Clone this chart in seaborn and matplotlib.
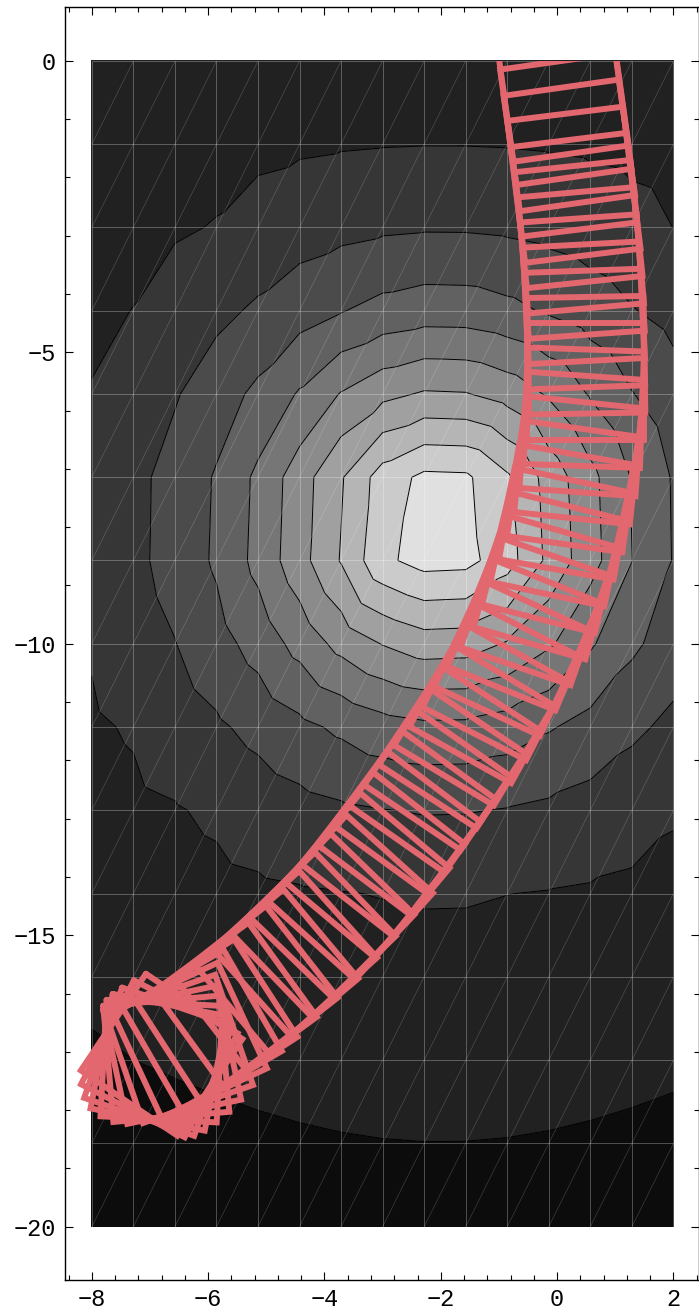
import numpy as np
import pandas as pd
import matplotlib
matplotlib.use("Agg")
import matplotlib.pyplot as plt
import matplotlib.tri as mtri
from matplotlib.ticker import MultipleLocator
from matplotlib.patches import Rectangle
from matplotlib.collections import LineCollection
import seaborn as sns

# -------------------------------------
# Data
# -------------------------------------

# 15 x 15 sampling mesh of the contour plot
mesh_x = [-8.0, -7.286, -6.571, -5.857, -5.143, -4.429, -3.714, -3.0,
          -2.286, -1.571, -0.857, -0.143, 0.571, 1.286, 2.0]
mesh_y = [-20.0, -18.571, -17.143, -15.714, -14.286, -12.857, -11.429, -10.0,
          -8.571, -7.143, -5.714, -4.286, -2.857, -1.429, 0.0]

# contour rings: distance from the peak at which each level is crossed
peak_x, peak_y = -2.0, -7.95
ring_radius = [0.0, 1.1, 1.45, 1.85, 2.3, 2.85, 3.35, 4.0, 4.97, 6.45, 10.6, 14.0]
ring_level = [11, 10, 9, 8, 7, 6, 5, 4, 3, 2, 1, 0]
band_gray = ['#0c0c0c', '#212121', '#363636', '#4b4b4b', '#616161', '#767676',
             '#8b8b8b', '#a0a0a0', '#b5b5b5', '#cbcbcb', '#e0e0e0']

# moving square: centre and rotation (degrees) of every drawn copy
sq_x = [0.10, 0.15, 0.21, 0.26, 0.32, 0.37, 0.41, 0.44, 0.46, 0.48, 0.50,
        0.49, 0.46, 0.42, 0.36, 0.27, 0.16, 0.04, -0.08, -0.20,
        -0.39, -0.58, -0.78, -0.97, -1.18, -1.43, -1.68, -1.93, -2.18,
        -2.45, -2.72, -2.99, -3.26, -3.55, -3.87, -4.19, -4.51,
        -4.83, -5.18, -5.53, -5.85, -6.10, -6.32, -6.50, -6.62, -6.72,
        -6.80, -6.85, -6.86, -6.84, -6.80]
sq_y = [-0.60, -1.00, -1.45, -1.90, -2.35, -2.80, -3.25, -3.70, -4.15, -4.60, -5.05,
        -5.50, -5.95, -6.40, -6.85, -7.30, -7.74, -8.17, -8.60, -9.03,
        -9.44, -9.84, -10.25, -10.65, -11.03, -11.40, -11.78, -12.15, -12.53,
        -12.89, -13.25, -13.61, -13.97, -14.35, -14.67, -14.99, -15.31,
        -15.62, -15.90, -16.18, -16.45, -16.62, -16.80, -16.95, -17.05, -17.12,
        -17.16, -17.18, -17.17, -17.12, -17.05]
sq_angle = [8, 8, 8, 7, 7, 6, 5, 4, 3, 2, 1,
            0, -2, -4, -6, -8, -10, -12, -14, -16,
            -19, -22, -25, -27, -29, -31, -33, -34, -35,
            -36, -37, -38, -40, -42, -44, -46, -48,
            -50, -52, -54, -57, -60, -65, -71, -78, -85,
            -93, -101, -109, -117, -124]
sq_half = 1.0

# -------------------------------------
# Build tables
# -------------------------------------
gx, gy = np.meshgrid(mesh_x, mesh_y)
dist = np.hypot(gx - peak_x, gy - peak_y)
level = np.interp(dist, ring_radius, ring_level)

nx = len(mesh_x)
triangles = []
for j in range(len(mesh_y) - 1):
    for i in range(nx - 1):
        a = j * nx + i
        triangles.append([a, a + 1, a + nx + 1])
        triangles.append([a, a + nx + 1, a + nx])
tri = mtri.Triangulation(gx.ravel(), gy.ravel(), triangles)

rows = []
for k, (cx, cy, ang) in enumerate(zip(sq_x, sq_y, sq_angle)):
    t = np.radians(ang)
    c, s = np.cos(t), np.sin(t)
    for u, v in [(-1, -1), (1, -1), (1, 1), (-1, 1), (-1, -1)]:
        rows.append({'square': k,
                     'x': cx + sq_half * (u * c - v * s),
                     'y': cy + sq_half * (u * s + v * c)})
corners = pd.DataFrame(rows)

# -------------------------------------
# Plot
# -------------------------------------
sns.set_style('ticks')
plt.rcParams['font.family'] = ['Liberation Mono', 'DejaVu Sans Mono']
plt.rcParams['lines.solid_joinstyle'] = 'miter'

fig = plt.figure(figsize=(6.99, 13.16), dpi=100)
ax = fig.add_axes([64.5 / 699, 1 - 1280 / 1316, 1 - 64.5 / 699, (1280 - 6.7) / 1316])

bounds = [-0.5, 1, 2, 3, 4, 5, 6, 7, 8, 9, 10, 11.5]
ax.tricontourf(tri, level.ravel(), levels=bounds, colors=band_gray)
ax.tricontour(tri, level.ravel(), levels=bounds[1:-1], colors='black', linewidths=0.7)

# sampling mesh with its diagonals
segs = [[(x, mesh_y[0]), (x, mesh_y[-1])] for x in mesh_x]
segs += [[(mesh_x[0], y), (mesh_x[-1], y)] for y in mesh_y]
ax.add_collection(LineCollection(segs, colors='white', alpha=0.28, linewidths=0.7))
diag = []
for j in range(len(mesh_y) - 1):
    for i in range(nx - 1):
        diag.append([(mesh_x[i], mesh_y[j]), (mesh_x[i + 1], mesh_y[j + 1])])
ax.add_collection(LineCollection(diag, colors='white', alpha=0.2, linewidths=0.5))

# the moving square
sns.lineplot(data=corners, x='x', y='y', units='square', estimator=None, sort=False,
             color='#e2676f', linewidth=4.3, legend=False, ax=ax)
clip = Rectangle((-10, -25), 15, 25, transform=ax.transData)
for ln in ax.lines:
    ln.set_clip_path(clip)

ax.set_xlim(-8.47, 2.44)
ax.set_ylim(-20.915, 0.93)
ax.set_xlabel('')
ax.set_ylabel('')
ax.set_xticks([-8, -6, -4, -2, 0, 2])
ax.set_yticks([0, -5, -10, -15, -20])
ax.xaxis.set_minor_locator(MultipleLocator(0.4))
ax.yaxis.set_minor_locator(MultipleLocator(1))
ax.tick_params(which='both', direction='in', top=True, right=True, width=0.8,
               labelsize=17, colors='black')
ax.tick_params(which='major', length=6, pad=6)
ax.tick_params(which='minor', length=3.5)
for sp in ax.spines.values():
    sp.set_linewidth(1.0)
    sp.set_color('black')

fig.savefig('out.png', dpi=100)
